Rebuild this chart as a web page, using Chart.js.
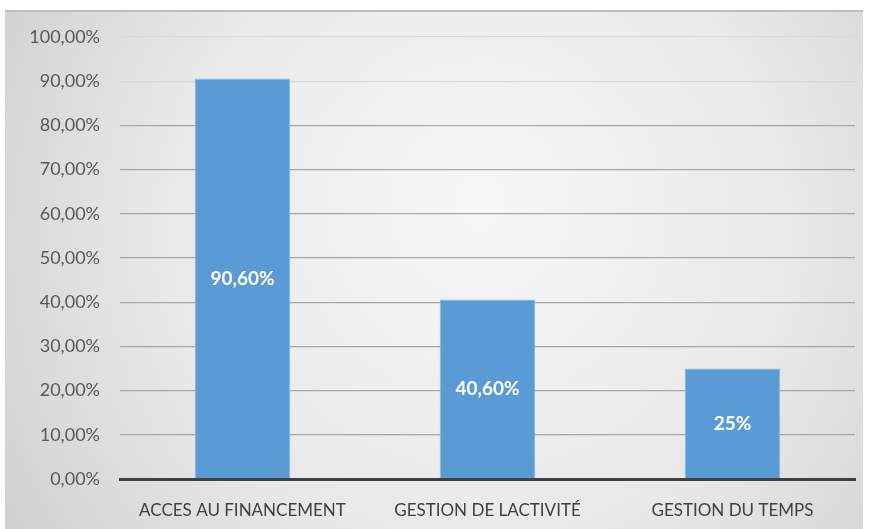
<!DOCTYPE html>
<html>
<head>
<meta charset="utf-8">
<script src="https://cdn.jsdelivr.net/npm/chart.js@4/dist/chart.umd.min.js"></script>
<style>
  html, body { margin: 0; padding: 0; background: #fff; }
  #wrap { width: 870px; height: 529px; }
</style>
</head>
<body>
<div id="wrap"><canvas id="chart" width="870" height="529"></canvas></div>
<script>
const categories = ["ACCES AU FINANCEMENT", "GESTION DE LACTIVITÉ", "GESTION DU TEMPS"];
const values = [0.906, 0.406, 0.25];
const valueLabels = ["90,60%", "40,60%", "25%"];

const fontFamily = "Lato, 'Open Sans', sans-serif";

// gray panel with a soft light centre, like the office chart style
const panelBackground = {
  id: "panelBackground",
  beforeDraw(chart) {
    const ctx = chart.ctx;
    const x0 = 5, y0 = 10, x1 = 863, y1 = 529;
    ctx.save();
    const g = ctx.createRadialGradient(480, 200, 20, 480, 250, 560);
    g.addColorStop(0, "#f6f6f6");
    g.addColorStop(0.55, "#e9e9e9");
    g.addColorStop(1, "#cfcfcf");
    ctx.fillStyle = g;
    ctx.fillRect(x0, y0, x1 - x0, y1 - y0);
    ctx.strokeStyle = "#bdbdbd";
    ctx.lineWidth = 2;
    ctx.beginPath();
    ctx.moveTo(x0, y0 + 1);
    ctx.lineTo(x1, y0 + 1);
    ctx.stroke();
    ctx.restore();
  }
};

const barValueLabels = {
  id: "barValueLabels",
  afterDatasetsDraw(chart) {
    const ctx = chart.ctx;
    const meta = chart.getDatasetMeta(0);
    ctx.save();
    ctx.fillStyle = "#ffffff";
    ctx.font = "bold 19px " + fontFamily;
    ctx.textAlign = "center";
    ctx.textBaseline = "middle";
    meta.data.forEach((bar, i) => {
      const yMid = (bar.y + bar.base) / 2;
      ctx.fillText(valueLabels[i], bar.x, yMid);
    });
    ctx.restore();
  }
};

new Chart(document.getElementById("chart"), {
  type: "bar",
  data: {
    labels: categories,
    datasets: [{
      data: values,
      backgroundColor: "#5b9bd5",
      borderColor: "#86b8e6",
      borderWidth: 1,
      barPercentage: 0.39,
      categoryPercentage: 1
    }]
  },
  options: {
    responsive: false,
    animation: false,
    layout: { padding: { left: 5, right: 15, top: 37, bottom: 10 } },
    plugins: {
      legend: { display: false },
      tooltip: { enabled: false }
    },
    scales: {
      x: {
        grid: { display: false },
        border: { display: true, color: "#404040", width: 3 },
        ticks: {
          color: "#404040",
          font: { family: fontFamily, size: 17 },
          padding: 13,
          maxRotation: 0
        },
        afterFit(scale) { scale.height = 40; }
      },
      y: {
        min: 0,
        max: 1,
        ticks: {
          stepSize: 0.1,
          color: "#595959",
          font: { family: fontFamily, size: 18 },
          padding: 20,
          callback: (v) => (v * 100).toFixed(2).replace(".", ",") + "%"
        },
        grid: {
          drawTicks: false,
          color: (c) => (c.index >= 9 ? "#d9d9d9" : "#a6a6a6"),
          lineWidth: 1.3
        },
        border: { display: false },
        afterFit(scale) { scale.width = 115; }
      }
    }
  },
  plugins: [panelBackground, barValueLabels]
});
</script>
</body>
</html>
